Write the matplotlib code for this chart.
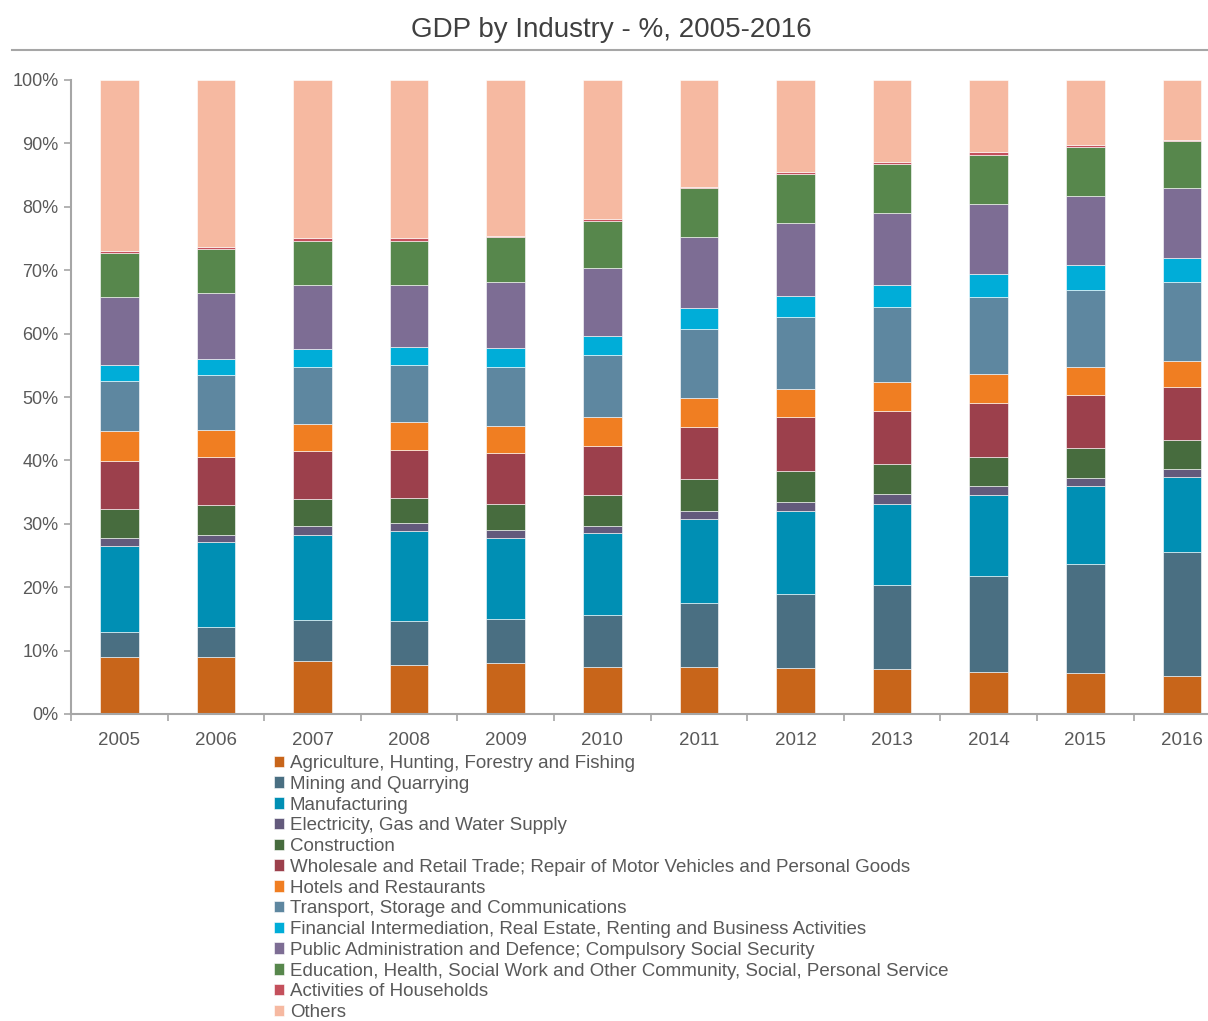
import matplotlib
matplotlib.use("Agg")
import matplotlib.pyplot as plt
from matplotlib.lines import Line2D
import numpy as np

plt.rcParams['font.family'] = ['Liberation Sans', 'DejaVu Sans']

years = ["2005", "2006", "2007", "2008", "2009", "2010", "2011", "2012", "2013", "2014", "2015", "2016"]

agriculture   = [9.0, 9.0, 8.4, 7.8, 8.0, 7.4, 7.4, 7.2, 7.1, 6.6, 6.4, 6.0]
mining        = [4.0, 4.8, 6.4, 6.8, 7.0, 8.2, 10.1, 11.7, 13.2, 15.2, 17.3, 19.5]
manufacturing = [13.5, 13.3, 13.5, 14.2, 12.7, 12.9, 13.3, 13.1, 12.9, 12.7, 12.2, 11.9]
electricity   = [1.2, 1.2, 1.4, 1.3, 1.3, 1.2, 1.2, 1.5, 1.5, 1.4, 1.3, 1.2]
construction  = [4.6, 4.6, 4.2, 4.0, 4.2, 4.8, 5.0, 4.8, 4.7, 4.7, 4.7, 4.6]
wholesale     = [7.6, 7.6, 7.6, 7.6, 7.9, 7.8, 8.3, 8.5, 8.4, 8.4, 8.4, 8.3]
hotels        = [4.7, 4.3, 4.3, 4.3, 4.3, 4.5, 4.6, 4.5, 4.5, 4.6, 4.4, 4.2]
transport     = [7.9, 8.6, 8.9, 9.0, 9.4, 9.9, 10.8, 11.3, 11.9, 12.1, 12.2, 12.4]
financial     = [2.5, 2.6, 2.8, 2.9, 2.9, 3.0, 3.3, 3.4, 3.5, 3.7, 3.9, 3.9]
public_admin  = [10.7, 10.4, 10.2, 9.8, 10.4, 10.7, 11.2, 11.4, 11.3, 11.0, 10.9, 10.9]
education     = [7.0, 6.9, 6.9, 6.9, 7.1, 7.4, 7.7, 7.7, 7.8, 7.8, 7.8, 7.4]
households    = [0.3, 0.4, 0.5, 0.5, 0.2, 0.2, 0.2, 0.4, 0.2, 0.4, 0.2, 0.3]
others        = [27.0, 26.3, 24.9, 24.9, 24.6, 22.0, 16.9, 14.5, 13.0, 11.4, 10.3, 9.4]

labels = [
    "Agriculture, Hunting, Forestry and Fishing",
    "Mining and Quarrying",
    "Manufacturing",
    "Electricity, Gas and Water Supply",
    "Construction",
    "Wholesale and Retail Trade; Repair of Motor Vehicles and Personal Goods",
    "Hotels and Restaurants",
    "Transport, Storage and Communications",
    "Financial Intermediation, Real Estate, Renting and Business Activities",
    "Public Administration and Defence; Compulsory Social Security",
    "Education, Health, Social Work and Other Community, Social, Personal Service",
    "Activities of Households",
    "Others",
]
series = [agriculture, mining, manufacturing, electricity, construction, wholesale,
          hotels, transport, financial, public_admin, education, households, others]
colors = ["#C8651A", "#4A6F82", "#008FB4", "#635A7C", "#476C3E", "#9C404C",
          "#F07E22", "#5E87A0", "#00ADD8", "#7D6D94", "#57874C", "#C4505C", "#F6B9A1"]

W, H = 1208, 1021
fig = plt.figure(figsize=(W / 100, H / 100), dpi=100)
ax = fig.add_axes([71 / W, 1 - 714 / H, 1 - 71 / W, (714 - 80) / H])

x = np.arange(len(years))
bottom = np.zeros(len(years))
handles = []
for vals, col, lab in zip(series, colors, labels):
    v = np.array(vals)
    b = ax.bar(x, v, bottom=bottom, width=0.40, color=col, edgecolor="#FFFFFF",
               linewidth=0.4, label=lab)
    handles.append(b)
    bottom += v

gray = "#A6A6A6"
txt = "#595959"
ax.set_xlim(-0.5, 11.27)
ax.set_ylim(0, 100)
ax.set_yticks(np.arange(0, 101, 10))
ax.set_yticklabels([f"{v}%" for v in range(0, 101, 10)], color=txt, fontsize=13)
ax.set_xticks(x)
ax.set_xticklabels(years, color=txt, fontsize=13.5)
ax.set_xticks(np.arange(-0.5, 11.0, 1.0), minor=True)
ax.tick_params(axis="x", which="major", length=0, pad=13)
ax.tick_params(axis="x", which="minor", length=5, color=gray, width=1.2)
ax.tick_params(axis="y", length=5, color=gray, width=1.2, pad=4)
for s in ["top", "right"]:
    ax.spines[s].set_visible(False)
for s in ["left", "bottom"]:
    ax.spines[s].set_color(gray)
    ax.spines[s].set_linewidth(1.5)

fig.text(611 / W, 1 - 30 / H, "GDP by Industry - %, 2005-2016", ha="center", va="center",
         fontsize=20, color="#404040")
fig.add_artist(Line2D([12 / W, 1.0], [1 - 50 / H, 1 - 50 / H], color=gray, linewidth=1.5))

leg = fig.legend(handles=handles, labels=labels, loc="upper left",
                 bbox_to_anchor=(274 / W, 1 - 755 / H), frameon=False,
                 fontsize=13.5, handlelength=0.55, handleheight=0.55,
                 handletextpad=0.3, labelspacing=0.2, borderaxespad=0, borderpad=0)
for t in leg.get_texts():
    t.set_color(txt)

fig.savefig("out.png", dpi=100)
